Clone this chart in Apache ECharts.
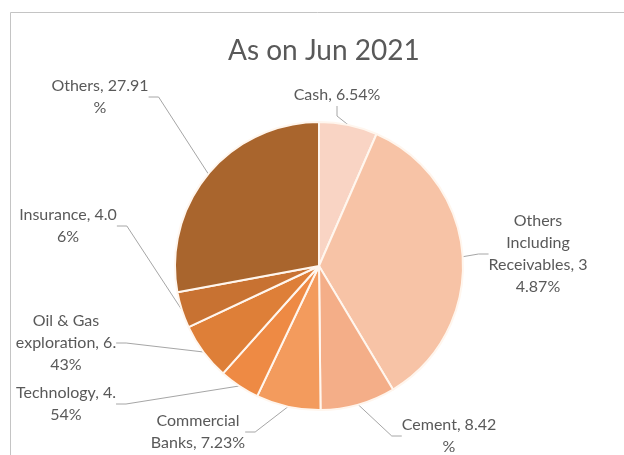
<!DOCTYPE html>
<html>
<head>
<meta charset="utf-8">
<style>
  html, body { margin: 0; padding: 0; background: #fff; }
  #chart { width: 624px; height: 455px; }
</style>
<script src="https://cdn.jsdelivr.net/npm/echarts@6/dist/echarts.min.js"></script>
</head>
<body>
<div id="chart"></div>
<script>
// Portfolio allocation by sector (% of total)
const titleText = 'As on Jun 2021';
const categories = [
  'Cash',
  'Others Including Receivables',
  'Cement',
  'Commercial Banks',
  'Technology',
  'Oil & Gas exploration',
  'Insurance',
  'Others'
];
const shares = [6.54, 34.87, 8.42, 7.23, 4.54, 6.43, 4.06, 27.91];
const sliceColors = ['#F9D4C4', '#F7C3A6', '#F4AE88', '#F39B5D', '#EE8A44', '#DE7F38', '#C87232', '#A9652D'];

// Where each label text wraps (character offsets) and where its block sits
const wrapAt = [[], [7, 17, 31], [12], [11], [14], [10, 25], [14], [13]];
const labelSpots = [
  [337, 95], [538, 254], [449, 436], [198, 432],
  [66, 404], [66, 343], [68, 226], [100, 97]
];

function wrapText(str, cuts) {
  const lines = [];
  let start = 0;
  cuts.forEach(c => { lines.push(str.slice(start, c).trim()); start = c; });
  lines.push(str.slice(start).trim());
  return lines.join('\n');
}

const chart = echarts.init(document.getElementById('chart'), null, { renderer: 'canvas' });
const FONT = 'Lato, "Open Sans", sans-serif';

chart.setOption({
  animation: false,
  backgroundColor: '#ffffff',
  title: {
    text: titleText,
    left: 223,
    top: 32,
    textStyle: { fontFamily: FONT, fontSize: 28, fontWeight: 'normal', color: '#595959' }
  },
  graphic: [{
    type: 'rect',
    shape: { x: 10.5, y: 12.5, width: 640, height: 460 },
    style: { fill: 'none', stroke: '#C4C4C4', lineWidth: 1 },
    silent: true
  }],
  series: [{
    type: 'pie',
    center: [319, 266],
    radius: 144,
    startAngle: 90,
    clockwise: true,
    itemStyle: { borderColor: '#FFF6EE', borderWidth: 2 },
    label: {
      show: true,
      fontFamily: FONT,
      fontSize: 16,
      lineHeight: 22,
      color: '#595959',
      align: 'center',
      formatter: p => wrapText(p.name + ', ' + p.value.toFixed(2) + '%', wrapAt[p.dataIndex])
    },
    labelLine: {
      show: true,
      length: 10,
      length2: 10,
      lineStyle: { color: '#A6A6A6', width: 1 }
    },
    labelLayout: p => ({
      x: labelSpots[p.dataIndex][0],
      y: labelSpots[p.dataIndex][1],
      align: 'center',
      verticalAlign: 'middle'
    }),
    data: categories.map((name, i) => ({
      name: name,
      value: shares[i],
      itemStyle: { color: sliceColors[i] }
    }))
  }]
});
</script>
</body>
</html>
